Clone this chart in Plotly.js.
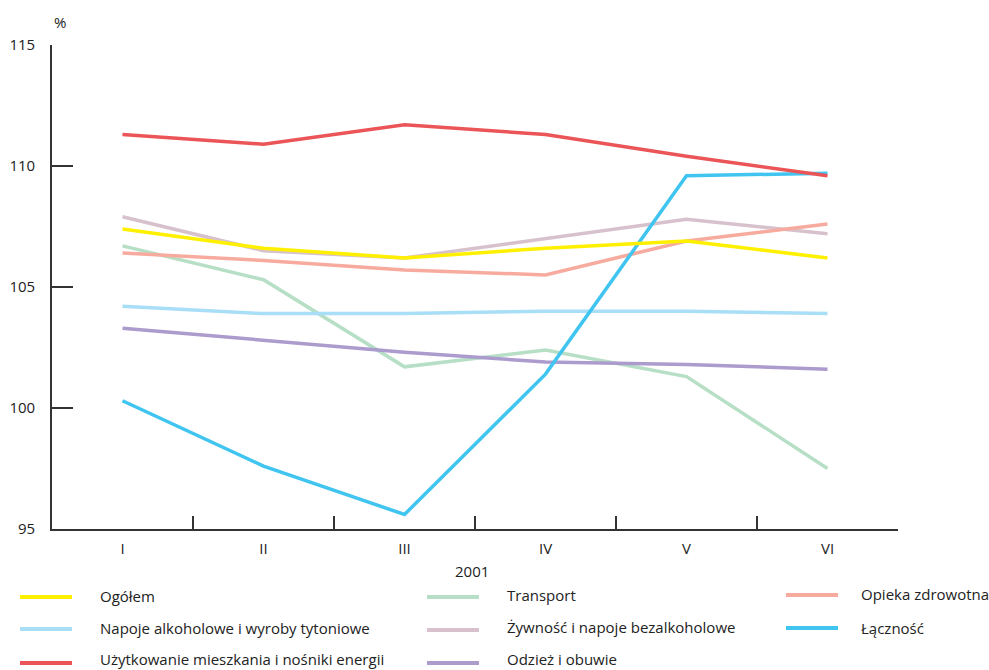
<!DOCTYPE html>
<html>
<head>
<meta charset="utf-8">
<script src="https://cdn.plot.ly/plotly-3.0.1.min.js"></script>
<style>html,body{margin:0;padding:0;background:#fff}#chart{width:989px;height:670px}</style>
</head>
<body>
<div id="chart"></div>
<script>
// ---- data ----
const months = ["I", "II", "III", "IV", "V", "VI"];
const yearLabel = "2001";
const unitLabel = "%";

const seriesNames = [
  "Ogółem",
  "Napoje alkoholowe i wyroby tytoniowe",
  "Użytkowanie mieszkania i nośniki energii",
  "Transport",
  "Żywność i napoje bezalkoholowe",
  "Odzież i obuwie",
  "Opieka zdrowotna",
  "Łączność"
];
const ogolem      = [107.4, 106.6, 106.2, 106.6, 106.9, 106.2];
const napoje      = [104.2, 103.9, 103.9, 104.0, 104.0, 103.9];
const uzytkowanie = [111.3, 110.9, 111.7, 111.3, 110.4, 109.6];
const transport   = [106.7, 105.3, 101.7, 102.4, 101.3, 97.5];
const zywnosc     = [107.9, 106.5, 106.2, 107.0, 107.8, 107.2];
const odziez      = [103.3, 102.8, 102.3, 101.9, 101.8, 101.6];
const opieka      = [106.4, 106.1, 105.7, 105.5, 106.9, 107.6];
const lacznosc    = [100.3, 97.6, 95.6, 101.4, 109.6, 109.7];

const seriesValues = [ogolem, napoje, uzytkowanie, transport, zywnosc, odziez, opieka, lacznosc];
const seriesColors = ["#FFF000", "#A9DEF7", "#EB5558", "#B6DFC6", "#D7C1CD", "#AC9BCD", "#F7AB9E", "#40C4F0"];

// drawing order (bottom -> top)
const drawOrder = [3, 4, 6, 1, 5, 7, 0, 2];

// ---- layout constants ----
const W = 989, H = 670;
const M = {l: 52, r: 91, t: 45, b: 141};
const plotW = W - M.l - M.r, plotH = H - M.t - M.b;
const px2x = p => (p - M.l) / plotW;
const py2y = p => (H - M.b - p) / plotH;

const FONT = "Open Sans, Noto Sans, sans-serif";
const TXT = "#222222";

const traces = drawOrder.map(i => ({
  type: "scatter",
  mode: "lines",
  x: months,
  y: seriesValues[i],
  name: seriesNames[i],
  line: {color: seriesColors[i], width: 3.5},
  showlegend: false,
  hoverinfo: "name+y"
}));

// custom legend: 3 columns
const legendCols = [
  {lineX0: 20, lineX1: 72, textX: 98, items: [0, 1, 2], lines: [597, 629, 663], texts: [596, 628, 659]},
  {lineX0: 427, lineX1: 479, textX: 505, items: [3, 4, 5], lines: [597, 630, 663], texts: [595, 627, 659]},
  {lineX0: 786, lineX1: 838, textX: 859, items: [6, 7], lines: [595, 628], texts: [594, 628]}
];
const shapes = [];
const annotations = [];
legendCols.forEach(c => {
  c.items.forEach((idx, k) => {
    shapes.push({type: "line", xref: "paper", yref: "paper",
      x0: px2x(c.lineX0), x1: px2x(c.lineX1), y0: py2y(c.lines[k]), y1: py2y(c.lines[k]),
      line: {color: seriesColors[idx], width: 4}});
    annotations.push({xref: "paper", yref: "paper", x: px2x(c.textX), y: py2y(c.texts[k]),
      xanchor: "left", yanchor: "middle", showarrow: false, text: seriesNames[idx],
      font: {family: FONT, size: 15, color: TXT}});
  });
});
annotations.push({xref: "paper", yref: "paper", x: px2x(60), y: py2y(22),
  xanchor: "center", yanchor: "middle", showarrow: false, text: unitLabel,
  font: {family: FONT, size: 15, color: TXT}});
annotations.push({xref: "paper", yref: "paper", x: px2x(472), y: py2y(571),
  xanchor: "center", yanchor: "middle", showarrow: false, text: yearLabel,
  font: {family: FONT, size: 15, color: TXT}});

const layout = {
  width: W, height: H,
  margin: M,
  paper_bgcolor: "#ffffff",
  plot_bgcolor: "#ffffff",
  showlegend: false,
  font: {family: FONT, color: TXT},
  xaxis: {
    type: "category",
    range: [-0.5, 5.5],
    showgrid: false, zeroline: false,
    showline: true, linecolor: "#333333", linewidth: 1.8,
    ticks: "inside", tickson: "boundaries", ticklen: 13, tickwidth: 1.3, tickcolor: "#333333",
    tickfont: {family: FONT, size: 15, color: TXT},
    ticklabelstandoff: 5,
    fixedrange: true
  },
  yaxis: {
    range: [95, 115],
    tickvals: [95, 100, 105, 110, 115],
    showgrid: false, zeroline: false,
    showline: true, linecolor: "#333333", linewidth: 1.8,
    ticks: "inside", ticklen: 21, tickwidth: 1.3, tickcolor: "#333333",
    tickfont: {family: FONT, size: 15, color: TXT},
    ticklabelstandoff: 12,
    fixedrange: true
  },
  shapes: shapes,
  annotations: annotations
};

Plotly.newPlot("chart", traces, layout, {displayModeBar: false, staticPlot: true});
</script>
</body>
</html>
